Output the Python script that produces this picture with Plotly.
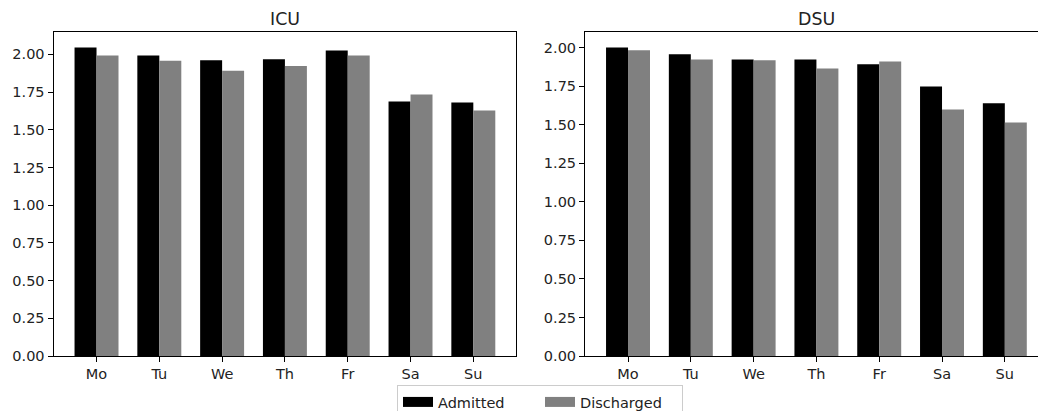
import plotly.graph_objects as go

days = ["Mo", "Tu", "We", "Th", "Fr", "Sa", "Su"]
icu_admitted = [2.046, 1.993, 1.961, 1.967, 2.026, 1.687, 1.680]
icu_discharged = [1.993, 1.957, 1.891, 1.922, 1.993, 1.733, 1.628]
dsu_admitted = [2.002, 1.957, 1.924, 1.924, 1.892, 1.749, 1.639]
dsu_discharged = [1.983, 1.924, 1.918, 1.866, 1.911, 1.600, 1.515]
y_ticks = [0, 0.25, 0.5, 0.75, 1.0, 1.25, 1.5, 1.75, 2.0]
series_names = ["Admitted", "Discharged"]
series_colors = ["black", "#808080"]

W, H = 1038, 411
FONT = "DejaVu Sans"
BW = 0.35

fig = go.Figure()
xs = list(range(len(days)))
for (adm, dis, xa, ya) in [
    (icu_admitted, icu_discharged, "x", "y"),
    (dsu_admitted, dsu_discharged, "x2", "y2"),
]:
    fig.add_trace(go.Bar(x=xs, y=adm, width=BW, offset=-BW, marker=dict(color=series_colors[0], line=dict(width=0)),
                         name=series_names[0], xaxis=xa, yaxis=ya, showlegend=False))
    fig.add_trace(go.Bar(x=xs, y=dis, width=BW, offset=0, marker=dict(color=series_colors[1], line=dict(width=0)),
                         name=series_names[1], xaxis=xa, yaxis=ya, showlegend=False))

# legend entries drawn as wide patches
for nm, col in zip(series_names, series_colors):
    fig.add_trace(go.Scatter(x=[None], y=[None], mode="lines", line=dict(color=col, width=10),
                             name=nm, showlegend=True, xaxis="x", yaxis="y"))

ppu = 62.8
l1 = 53.5
r1 = l1 + 7.37 * ppu
l2 = 585.0
r2 = W
ydom = [(H - 356) / H, (H - 32) / H]

axis_common = dict(showline=True, linecolor="black", linewidth=1, ticks="outside", ticklen=5,
                   tickcolor="black", tickwidth=1, showgrid=False, zeroline=False, automargin=False,
                   tickfont=dict(family=FONT, size=14.5, color="#222222"))

fig.update_layout(
    width=W, height=H, margin=dict(l=0, r=0, t=0, b=0, autoexpand=False),
    plot_bgcolor="white", paper_bgcolor="white",
    barmode="overlay",
    font=dict(family=FONT, size=14.5, color="#222222"),
    xaxis=dict(domain=[l1 / W, r1 / W], range=[-0.685, 6.685], tickvals=xs, ticktext=days,
               mirror=True, anchor="y", **axis_common),
    yaxis=dict(domain=ydom, range=[0, 2.148], tickvals=y_ticks, tickformat=".2f",
               mirror=True, anchor="x", **axis_common),
    xaxis2=dict(domain=[l2 / W, r2 / W], range=[-0.685, (r2 - l2) / ppu - 0.685], tickvals=xs, ticktext=days,
                mirror=True, anchor="y2", **axis_common),
    yaxis2=dict(domain=ydom, range=[0, 2.102], tickvals=y_ticks, tickformat=".2f",
                mirror=False, anchor="x2", **axis_common),
    legend=dict(orientation="h", x=540 / W, xanchor="center", y=(H - 385) / H, yanchor="top",
                bgcolor="white", bordercolor="#cccccc", borderwidth=1,
                entrywidth=97, entrywidthmode="pixels",
                font=dict(family=FONT, size=14.5, color="#222222")),
    annotations=[
        dict(text="ICU", x=(l1 + r1) / 2 / W, y=(H - 19) / H, xref="paper", yref="paper",
             showarrow=False, xanchor="center", yanchor="middle", font=dict(family=FONT, size=17.4, color="#222222")),
        dict(text="DSU", x=(l2 + l2 + 7.37 * ppu) / 2 / W, y=(H - 19) / H, xref="paper", yref="paper",
             showarrow=False, xanchor="center", yanchor="middle", font=dict(family=FONT, size=17.4, color="#222222")),
    ],
)

fig.write_html("out.html")
